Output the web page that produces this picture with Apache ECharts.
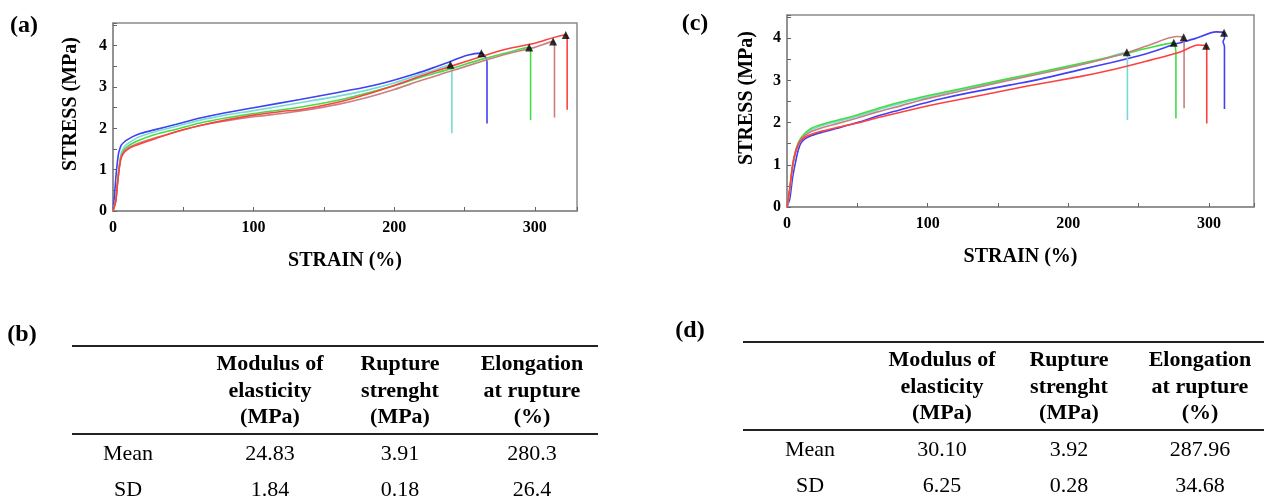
<!DOCTYPE html>
<html>
<head>
<meta charset="utf-8">
<script src="https://cdn.jsdelivr.net/npm/echarts@6/dist/echarts.min.js"></script>
<style>
  html, body { margin: 0; background: #fff; }
  #chart { width: 1264px; height: 500px; }
</style>
</head>
<body>
<div id="chart"></div>
<script>
// ---- data: stress-strain curves, [strain %, stress MPa] ----
// panel (a)
const blueA = [[0,0],[1,0.35],[2,0.8],[3,1.15],[4,1.4],[5,1.52],[6,1.6],[8,1.67],[10,1.72],[14,1.8],[20,1.88],[30,1.97],[45,2.1],[62,2.25],[80,2.38],[100,2.5],[133,2.7],[160,2.87],[180,3.0],[199,3.16],[215,3.32],[228,3.47],[240,3.62],[252,3.77],[262,3.82],[265,3.72],[266,3.6],[266,2.12]];
const cyanA = [[0,0],[2,0.3],[3,0.7],[4,1.0],[5,1.25],[6,1.42],[8,1.55],[10,1.62],[14,1.71],[19,1.8],[30,1.92],[45,2.05],[62,2.2],[80,2.32],[100,2.43],[133,2.62],[160,2.78],[180,2.92],[200,3.1],[215,3.27],[228,3.4],[240,3.54],[241,3.35],[241,1.88]];
const greenA = [[0,0],[2,0.25],[3,0.6],[4,0.95],[5,1.2],[6,1.35],[8,1.48],[10,1.55],[14,1.64],[19,1.72],[30,1.85],[45,1.98],[62,2.13],[80,2.25],[100,2.36],[120,2.45],[133,2.51],[160,2.68],[180,2.85],[200,3.03],[220,3.25],[240,3.44],[262,3.67],[280,3.83],[296,3.96],[297,3.85],[297,2.2]];
const brownA = [[0,0],[2,0.25],[3,0.6],[4,0.92],[5,1.18],[6,1.33],[8,1.45],[10,1.51],[14,1.58],[19,1.65],[30,1.77],[45,1.92],[62,2.07],[80,2.18],[100,2.28],[120,2.36],[133,2.42],[160,2.58],[180,2.74],[200,2.94],[220,3.17],[240,3.38],[262,3.62],[280,3.8],[300,3.96],[313,4.1],[314,3.95],[314,2.26]];
const redA = [[0,0],[2,0.25],[3,0.6],[4,0.9],[5,1.15],[6,1.3],[8,1.42],[10,1.48],[14,1.56],[19,1.62],[30,1.75],[45,1.92],[62,2.07],[80,2.2],[100,2.32],[120,2.41],[133,2.45],[160,2.63],[180,2.82],[200,3.04],[220,3.28],[240,3.5],[262,3.74],[280,3.92],[300,4.06],[322,4.26],[323,4.15],[323,2.45]];
const peaksA = [[262,3.82],[240,3.54],[296,3.96],[313,4.1],[322,4.26]];

// panel (c)
const blueC = [[0,0],[2,0.2],[4,0.7],[6,1.05],[8,1.35],[10,1.52],[13,1.62],[18,1.7],[25,1.77],[35,1.86],[50,2.0],[65,2.16],[80,2.3],[95,2.44],[109,2.56],[130,2.71],[160,2.9],[180,3.03],[208,3.25],[230,3.42],[256,3.64],[274,3.84],[290,3.99],[305,4.15],[310.7,4.13],[311,4.0],[310,3.92],[311,3.8],[311,2.32]];
const cyanC = [[0,0],[2,0.4],[4,0.95],[6,1.3],[8,1.5],[10,1.62],[13,1.73],[18,1.84],[25,1.93],[35,2.02],[50,2.15],[65,2.31],[80,2.45],[95,2.57],[109,2.68],[140,2.9],[170,3.11],[200,3.32],[220,3.47],[241.6,3.67],[242,3.5],[242,2.06]];
const greenC = [[0,0],[2,0.45],[4,1.0],[6,1.32],[8,1.52],[10,1.64],[13,1.76],[18,1.88],[25,1.96],[35,2.05],[50,2.18],[65,2.34],[80,2.48],[95,2.6],[109,2.7],[140,2.92],[170,3.13],[200,3.34],[220,3.48],[241,3.64],[256,3.76],[275,3.89],[276,3.8],[276.5,3.6],[276.5,2.1]];
const brownC = [[0,0],[2,0.4],[4,0.95],[6,1.28],[8,1.48],[10,1.6],[13,1.7],[18,1.8],[25,1.88],[35,1.97],[50,2.11],[65,2.26],[80,2.39],[95,2.53],[109,2.64],[140,2.87],[170,3.09],[200,3.3],[220,3.46],[241,3.65],[256,3.82],[277,4.04],[282,4.02],[282.3,3.9],[282.3,2.34]];
const redC = [[0,0],[2,0.45],[4,1.0],[6,1.3],[8,1.48],[10,1.58],[13,1.66],[18,1.73],[25,1.8],[35,1.88],[50,1.99],[65,2.12],[80,2.24],[95,2.36],[109,2.46],[140,2.66],[170,2.86],[208,3.09],[232,3.26],[256,3.46],[280,3.68],[292,3.84],[298,3.82],[298.4,3.7],[298.4,1.98]];
const peaksC = [[310.7,4.13],[241.6,3.67],[275,3.89],[282,4.02],[298,3.82]];

// ---- data: tables (b) and (d) ----
const tableHeader = [
  ['Modulus of', 'elasticity', '(MPa)'],
  ['Rupture', 'strenght', '(MPa)'],
  ['Elongation', 'at rupture', '(%)']
];
const rowLabels = ['Mean', 'SD'];
const valuesB = [['24.83', '3.91', '280.3'], ['1.84', '0.18', '26.4']];
const valuesD = [['30.10', '3.92', '287.96'], ['6.25', '0.28', '34.68']];

const FONT = '"Liberation Serif", "Times New Roman", serif';
const colors = ['#4040f4', '#74dcd4', '#44dd44', '#c88080', '#ff4040'];

const chart = echarts.init(document.getElementById('chart'));

function xAxisFor(gridIndex, max) {
  return {
    gridIndex, type: 'value', min: 0, max, interval: 50,
    name: 'STRAIN (%)', nameLocation: 'middle', nameGap: 40,
    nameTextStyle: { fontFamily: FONT, fontWeight: 'bold', fontSize: 20, color: '#000' },
    axisLine: { lineStyle: { color: '#8c8c8c', width: 1.5 } },
    axisTick: { inside: true, length: 4, lineStyle: { color: '#666' } },
    axisLabel: {
      margin: 9, fontFamily: FONT, fontWeight: 'bold', fontSize: 16, color: '#000',
      formatter: v => (v % 100 === 0 ? String(v) : '')
    },
    splitLine: { show: false }
  };
}

function yAxisFor(gridIndex, gap) {
  return {
    gridIndex, type: 'value', min: 0, max: 4.55, interval: 0.5,
    name: 'STRESS (MPa)', nameLocation: 'middle', nameGap: gap,
    nameTextStyle: { fontFamily: FONT, fontWeight: 'bold', fontSize: 20, color: '#000', padding: [0, 0, 0, 26] },
    axisLine: { lineStyle: { color: '#8c8c8c', width: 1.5 } },
    axisTick: { inside: true, length: 4, lineStyle: { color: '#666' } },
    axisLabel: {
      margin: 6, fontFamily: FONT, fontWeight: 'bold', fontSize: 16, color: '#000',
      formatter: v => (Number.isInteger(v) ? String(v) : '')
    },
    splitLine: { show: false }
  };
}

function curves(idx, list, peaks) {
  const out = list.map((d, i) => ({
    type: 'line', xAxisIndex: idx, yAxisIndex: idx,
    data: d, showSymbol: false, silent: true, smooth: 0.25,
    lineStyle: { color: colors[i], width: 1.6 },
    z: 2 + i
  }));
  out.push({
    type: 'scatter', xAxisIndex: idx, yAxisIndex: idx,
    data: peaks, symbol: 'triangle', symbolSize: 8,
    itemStyle: { color: '#000' }, z: 10, silent: true
  });
  return out;
}

function txt(x, y, text, size, bold, align) {
  return {
    type: 'text', x, y, silent: true,
    style: {
      text, fill: '#000', font: (bold ? 'bold ' : '') + size + 'px ' + FONT,
      align: align || 'center', verticalAlign: 'middle',
      textAlign: align || 'center', textVerticalAlign: 'middle'
    }
  };
}

function rule(x1, x2, y) {
  return { type: 'line', silent: true, shape: { x1, y1: y, x2, y2: y }, style: { stroke: '#222', lineWidth: 2 } };
}

function buildTable(lay, values) {
  const els = [rule(lay.x0, lay.x1, lay.top), rule(lay.x0, lay.x1, lay.mid)];
  tableHeader.forEach((lines, c) => {
    lines.forEach((t, r) => els.push(txt(lay.cols[c], lay.headY[r], t, 22, true)));
  });
  rowLabels.forEach((lab, r) => {
    els.push(txt(lay.labelX, lay.rowY[r], lab, 22, false));
    values[r].forEach((v, c) => els.push(txt(lay.cols[c], lay.rowY[r], v, 22, false)));
  });
  return els;
}

const layoutB = { x0: 72, x1: 598, top: 346, mid: 434, labelX: 128, cols: [270, 400, 532], headY: [364, 391, 417], rowY: [454, 490] };
const layoutD = { x0: 743, x1: 1264, top: 342, mid: 430, labelX: 810, cols: [942, 1069, 1200], headY: [360, 387, 413], rowY: [450, 486] };

chart.setOption({
  animation: false,
  backgroundColor: '#fff',
  grid: [
    { left: 113, top: 23, width: 464, height: 188, show: true, borderColor: '#8c8c8c', borderWidth: 1.5 },
    { left: 787, top: 15, width: 467, height: 192, show: true, borderColor: '#8c8c8c', borderWidth: 1.5 }
  ],
  xAxis: [xAxisFor(0, 330), xAxisFor(1, 332)],
  yAxis: [yAxisFor(0, 32), yAxisFor(1, 30)],
  series: [
    ...curves(0, [blueA, cyanA, greenA, brownA, redA], peaksA),
    ...curves(1, [blueC, cyanC, greenC, brownC, redC], peaksC)
  ],
  graphic: [
    txt(24, 26, '(a)', 24, true),
    txt(695, 24, '(c)', 24, true),
    txt(22, 335, '(b)', 24, true),
    txt(690, 331, '(d)', 24, true),
    ...buildTable(layoutB, valuesB),
    ...buildTable(layoutD, valuesD)
  ]
});
</script>
</body>
</html>
